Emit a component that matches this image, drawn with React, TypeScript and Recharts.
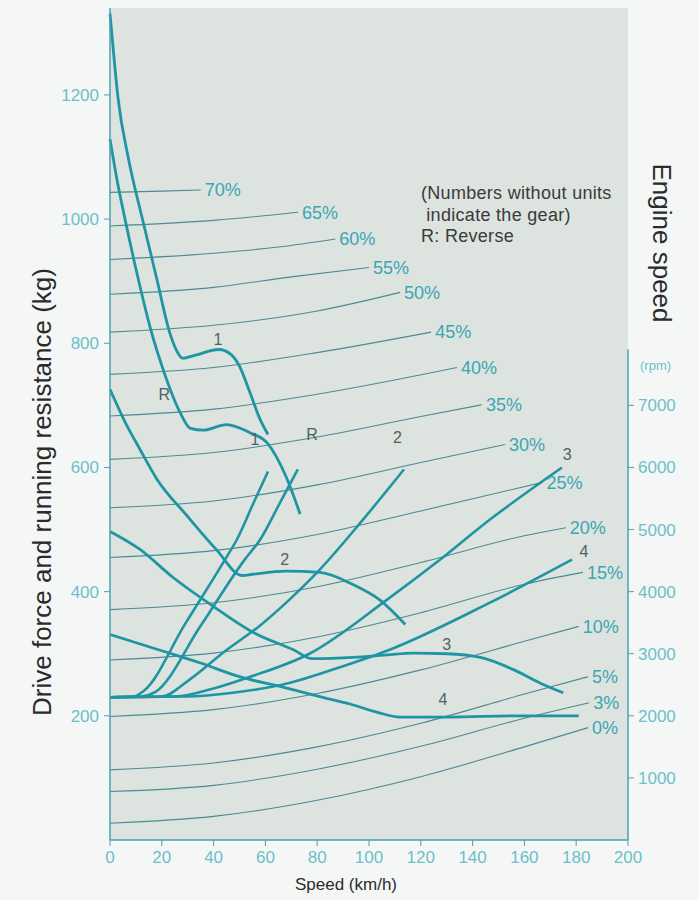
import React from 'react';
import { ComposedChart, Line, XAxis, YAxis, CartesianGrid, ReferenceLine, ReferenceDot } from 'recharts';

const speedTicks = [0, 20, 40, 60, 80, 100, 120, 140, 160, 180, 200];
const forceTicks = [200, 400, 600, 800, 1000, 1200];
const rpmTicks = [1000, 2000, 3000, 4000, 5000, 6000, 7000];

// running resistance per grade: [speed km/h, kg]
const grade0 = [[0, 27], [40, 38], [80, 64], [120, 102], [160, 150], [184.6, 181]];
const grade3 = [[0, 78], [40, 88], [80, 114], [120, 151], [160, 196], [185, 221]];
const grade5 = [[0, 113], [40, 124], [80, 150], [120, 188], [160, 235], [184.6, 263]];
const grade10 = [[0, 199], [40, 210], [80, 236], [120, 274], [160, 320], [181, 344]];
const grade15 = [[0, 290], [40, 301], [80, 327], [120, 366], [160, 412], [182.6, 431]];
const grade20 = [[0, 371], [40, 382], [80, 408], [120, 447], [160, 490], [176, 503]];
const grade25 = [[0, 455], [40, 466], [80, 492], [120, 530], [167, 576]];
const grade30 = [[0, 535], [40, 546], [80, 572], [120, 608], [152.5, 637]];
const grade35 = [[0, 613], [40, 624], [80, 649], [120, 682], [143.6, 701]];
const grade40 = [[0, 683], [40, 694], [80, 718], [134, 761]];
const grade45 = [[0, 750], [40, 761], [80, 785], [124, 818]];
const grade50 = [[0, 818], [40, 829], [80, 852], [112, 882]];
const grade55 = [[0, 879], [40, 890], [70, 907], [100, 922]];
const grade60 = [[0, 935], [40, 945], [65, 955], [87, 968]];
const grade65 = [[0, 989], [40, 998], [72.6, 1011]];
const grade70 = [[0, 1043], [20, 1045], [35, 1047]];

const gradeLines = [
  { name: '0%', points: grade0 },
  { name: '3%', points: grade3 },
  { name: '5%', points: grade5 },
  { name: '10%', points: grade10 },
  { name: '15%', points: grade15 },
  { name: '20%', points: grade20 },
  { name: '25%', points: grade25 },
  { name: '30%', points: grade30 },
  { name: '35%', points: grade35 },
  { name: '40%', points: grade40 },
  { name: '45%', points: grade45 },
  { name: '50%', points: grade50 },
  { name: '55%', points: grade55 },
  { name: '60%', points: grade60 },
  { name: '65%', points: grade65 },
  { name: '70%', points: grade70 },
];

// drive force per gear: [speed km/h, kg]
const drive1 = [[0, 1331], [1.5, 1262], [3.1, 1195], [7, 1100], [12.7, 997], [18, 905], [23, 818], [26, 786], [28, 776], [33, 781], [42, 790], [47, 781], [50, 763], [54, 721], [58, 677], [61, 653]];
const driveR = [[0, 1129], [2.5, 1068], [5.8, 1000], [10, 920], [16, 818], [20.5, 758], [27, 689], [31, 663], [36, 660], [45, 669], [54, 656], [60.6, 640], [68, 585], [73.4, 525]];
const drive2 = [[0, 726], [5.5, 676], [11.6, 629], [18, 582], [30, 521], [41, 468], [51, 426], [55, 428], [68, 433], [81, 431], [94, 411], [104, 387], [114, 347]];
const drive3 = [[0, 497], [11.6, 468], [24, 424], [40, 376], [55, 335], [71, 306], [78, 292], [94, 294], [107, 298], [117, 301], [130, 300], [143, 294], [156, 274], [166, 253], [175, 237]];
const drive4 = [[0, 331], [19, 306], [35, 285], [50, 263], [66, 247], [81, 231], [92.7, 219], [103, 206], [112, 198], [131, 198], [157, 200], [181, 200]];

// engine speed per gear: [speed km/h, rpm]
const rpm1 = [[0, 2300], [9, 2310], [13, 2400], [29, 3480], [44.4, 4516], [49, 4840], [55, 5390], [61, 5935]];
const rpmR = [[0, 2300], [12, 2310], [17.4, 2380], [35, 3450], [52, 4516], [58, 4840], [65, 5380], [72.5, 5970]];
const rpm2 = [[0, 2300], [20, 2310], [30, 2560], [45, 3060], [57.5, 3440], [69.5, 3880], [81, 4355], [97.7, 5160], [113.5, 5968]];
const rpm3 = [[0, 2300], [25, 2310], [40, 2440], [55, 2640], [77, 3000], [107, 3871], [127, 4500], [146.7, 5161], [174.5, 6000]];
const rpm4 = [[0, 2300], [30, 2310], [45, 2360], [69.5, 2532], [90, 2800], [108, 3065], [146.7, 3823], [178.4, 4516]];

const driveCurves = [drive1, driveR, drive2, drive3, drive4];
const rpmCurves = [rpm1, rpmR, rpm2, rpm3, rpm4];

// gear tags: [speed, kg] on the force scale, [speed, rpm] on the rpm scale
const driveTags = [
  { x: 41.7, y: 806, text: '1' },
  { x: 21, y: 718, text: 'R' },
  { x: 67.5, y: 452, text: '2' },
  { x: 130, y: 315, text: '3' },
  { x: 128.6, y: 226, text: '4' },
];
const rpmTags = [
  { x: 56, y: 6450, text: '1' },
  { x: 78, y: 6530, text: 'R' },
  { x: 111, y: 6480, text: '2' },
  { x: 176.5, y: 6210, text: '3' },
  { x: 183, y: 4650, text: '4' },
];

const toXY = (pts: number[][]) => pts.map(([x, y]) => ({ x, y }));

const thick = '#1f95a3';
const thin = '#4a8b94';
const pctColor = '#3aa6b4';
const tickColor = '#6cbfca';
const axisColor = '#4aa2ae';
const tagColor = '#4d6265';

export default function App() {
  return (
    <div style={{ position: 'absolute', left: 0, top: 0, width: 699, height: 900, background: '#f5f7f6', fontFamily: '"Liberation Sans", Arial, sans-serif', overflow: 'hidden' }}>
      <ComposedChart width={699} height={900} margin={{ top: 8, right: 0, bottom: 0, left: 0 }}>
        <CartesianGrid fill="#dde3df" horizontal={false} vertical={false} />
        <XAxis type="number" dataKey="x" domain={[0, 200]} ticks={speedTicks} height={60} tick={{ fill: tickColor, fontSize: 17 }} tickMargin={5} axisLine={{ stroke: axisColor, strokeWidth: 1.5 }} tickLine={{ stroke: axisColor }} />
        <YAxis yAxisId="kg" type="number" domain={[0, 1340]} ticks={forceTicks} width={110} tick={{ fill: tickColor, fontSize: 17 }} tickMargin={5} axisLine={{ stroke: axisColor, strokeWidth: 1.5 }} tickLine={{ stroke: axisColor }} />
        <YAxis yAxisId="rpm" orientation="right" type="number" domain={[0, 13400]} ticks={rpmTicks} width={71} tick={{ fill: tickColor, fontSize: 17 }} tickMargin={4} axisLine={false} tickLine={{ stroke: axisColor }} />
        <ReferenceLine yAxisId="rpm" segment={[{ x: 200, y: 0 }, { x: 200, y: 7900 }]} stroke={axisColor} strokeWidth={1.5} />

        {gradeLines.map((g) => (
          <Line key={g.name} yAxisId="kg" data={toXY(g.points)} dataKey="y" type="monotone" stroke={thin} strokeWidth={1.1} dot={false} activeDot={false} isAnimationActive={false} />
        ))}
        {driveCurves.map((c, i) => (
          <Line key={'d' + i} yAxisId="kg" data={toXY(c)} dataKey="y" type="monotone" stroke={thick} strokeWidth={2.8} dot={false} activeDot={false} isAnimationActive={false} />
        ))}
        {rpmCurves.map((c, i) => (
          <Line key={'r' + i} yAxisId="rpm" data={toXY(c)} dataKey="y" type="monotone" stroke={thick} strokeWidth={2.6} dot={false} activeDot={false} isAnimationActive={false} />
        ))}

        {gradeLines.map((g) => {
          const last = g.points[g.points.length - 1];
          return (
            <ReferenceDot key={'l' + g.name} yAxisId="kg" x={last[0]} y={last[1]} r={0} stroke="none"
              label={{ value: g.name, position: 'right', offset: 4, fill: pctColor, fontSize: 18 }} />
          );
        })}
        {driveTags.map((t, i) => (
          <ReferenceDot key={'dt' + i} yAxisId="kg" x={t.x} y={t.y} r={0} stroke="none"
            label={{ value: t.text, position: 'center', fill: tagColor, fontSize: 16 }} />
        ))}
        {rpmTags.map((t, i) => (
          <ReferenceDot key={'rt' + i} yAxisId="rpm" x={t.x} y={t.y} r={0} stroke="none"
            label={{ value: t.text, position: 'center', fill: tagColor, fontSize: 16 }} />
        ))}
      </ComposedChart>

      <div style={{ position: 'absolute', left: 42, top: 492, transform: 'translate(-50%, -50%) rotate(-90deg)', whiteSpace: 'nowrap', fontSize: 26, color: '#2b2b2b' }}>
        Drive force and running resistance (kg)
      </div>
      <div style={{ position: 'absolute', left: 661, top: 243, transform: 'translate(-50%, -50%) rotate(90deg)', whiteSpace: 'nowrap', fontSize: 26, color: '#2b2b2b' }}>
        Engine speed
      </div>
      <div style={{ position: 'absolute', left: 346, top: 885, transform: 'translate(-50%, -50%)', whiteSpace: 'nowrap', fontSize: 17, color: '#2b2b2b' }}>
        Speed (km/h)
      </div>
      <div style={{ position: 'absolute', left: 640, top: 358, whiteSpace: 'nowrap', fontSize: 13, color: tickColor }}>
        (rpm)
      </div>
      <div style={{ position: 'absolute', left: 421, top: 183, fontSize: 18, letterSpacing: '0.3px', lineHeight: '21.5px', color: '#3a3a3a', whiteSpace: 'pre' }}>
        {'(Numbers without units\n indicate the gear)\nR: Reverse'}
      </div>
    </div>
  );
}
